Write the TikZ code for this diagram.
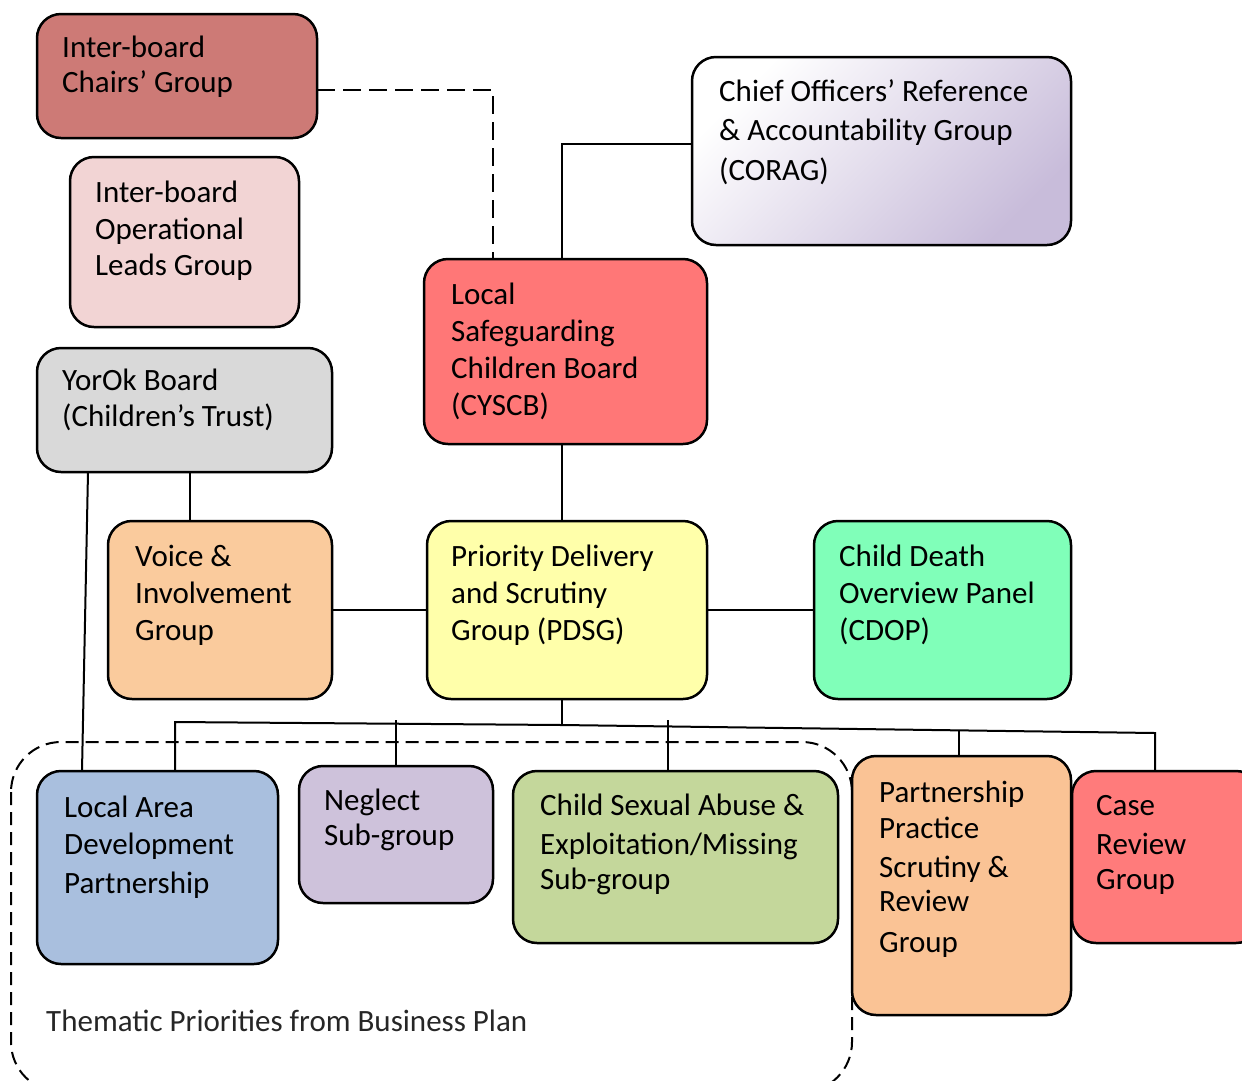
\documentclass[tikz,border=0pt]{standalone}
\usepackage{fontspec}
\setmainfont{Carlito}
\definecolor{cchairs}{RGB}{205,122,118}
\definecolor{coplead}{RGB}{242,212,212}
\definecolor{cyorok}{RGB}{217,217,217}
\definecolor{ccorag}{RGB}{200,188,218}
\definecolor{clscb}{RGB}{255,119,119}
\definecolor{cvoice}{RGB}{250,203,157}
\definecolor{cpdsg}{RGB}{255,255,170}
\definecolor{ccdop}{RGB}{128,255,185}
\definecolor{cladp}{RGB}{169,191,222}
\definecolor{cneglect}{RGB}{206,194,219}
\definecolor{ccse}{RGB}{196,215,155}
\definecolor{cppsrg}{RGB}{250,195,149}
\definecolor{ccase}{RGB}{255,123,123}
\definecolor{ctheme}{RGB}{38,38,38}
\tikzset{
  box/.style={draw, line width=2.5pt, rounded corners=24pt, inner sep=0pt, outer sep=0pt},
  txt/.style={anchor=base west, align=left, inner sep=0pt, font=\fontsize{31}{37}\selectfont},
  conn/.style={line width=2pt},
  dconn/.style={line width=2pt, dash pattern=on 18pt off 8pt},
  region/.style={line width=2pt, dash pattern=on 13pt off 7pt, rounded corners=50pt}
}
\begin{document}
\begin{tikzpicture}[x=1pt,y=-1pt]
\useasboundingbox (0,0) rectangle (1242,1080);
\clip (0,0) rectangle (1242,1080);
% thematic region
\draw[region] (11,742) rectangle (852,1092);
\node[anchor=base west, inner sep=0pt, text=ctheme, font=\fontsize{31}{37}\selectfont] (theme) at (46,1031) {Thematic Priorities from Business Plan};

% boxes
\node[box, fill=cchairs, minimum width=280pt, minimum height=124pt] (chairs) at (177,76) {};
\node[box, fill=coplead, minimum width=229pt, minimum height=170pt] (oplead) at (184.5,242) {};
\node[box, fill=cyorok, minimum width=295pt, minimum height=124pt] (yorok) at (184.5,410) {};
\node[box, top color=white, bottom color=ccorag, shading angle=45, minimum width=379pt, minimum height=188pt] (corag) at (881.5,151) {};
\node[box, fill=clscb, minimum width=283pt, minimum height=185pt] (lscb) at (565.5,351.5) {};
\node[box, fill=cvoice, minimum width=224pt, minimum height=178pt] (voice) at (220,610) {};
\node[box, fill=cpdsg, minimum width=280pt, minimum height=178pt] (pdsg) at (567,610) {};
\node[box, fill=ccdop, minimum width=257pt, minimum height=178pt] (cdop) at (942.5,610) {};
\node[box, fill=cladp, minimum width=241pt, minimum height=193pt] (ladp) at (157.5,867.5) {};
\node[box, fill=cneglect, minimum width=194pt, minimum height=137pt] (neglect) at (396,834.5) {};
\node[box, fill=ccse, minimum width=325pt, minimum height=172pt] (cse) at (675.5,857) {};
\node[box, fill=cppsrg, minimum width=219pt, minimum height=259pt] (ppsrg) at (961.5,885.5) {};
\node[box, fill=ccase, minimum width=188pt, minimum height=172pt] (case) at (1166,857) {};

% texts (anchored at the baseline of the last line)
\node[txt] (chairsT) at (62,92) {Inter-board\\[-2pt]Chairs’ Group};
\node[txt] (opleadT) at (95,275) {Inter-board\\Operational\\[-1pt]Leads Group};
\node[txt] (yorokT) at (62,426) {YorOk Board\\[-1pt](Children’s Trust)};
\node[txt] (coragT) at (719,180) {Chief Officers’ Reference\\[2.5pt]\& Accountability Group\\[2.5pt](CORAG)};
\node[txt] (lscbT) at (451,415) {Local\\Safeguarding\\Children Board\\(CYSCB)};
\node[txt] (voiceT) at (135,640) {Voice \&\\Involvement\\Group};
\node[txt] (pdsgT) at (451,640) {Priority Delivery\\and Scrutiny\\Group (PDSG)};
\node[txt] (cdopT) at (839,640) {Child Death\\Overview Panel\\(CDOP)};
\node[txt] (ladpT) at (64,893) {Local Area\\Development\\[2pt]Partnership};
\node[txt] (neglectT) at (324,845) {Neglect\\[-2pt]Sub-group};
\node[txt] (cseT) at (540,889) {Child Sexual Abuse \&\\[2pt]Exploitation/Missing\\[-2pt]Sub-group};
\node[txt] (ppsrgT) at (879,952) {Partnership\\[-1pt]Practice\\[2pt]Scrutiny \&\\[-3pt]Review\\[4pt]Group};
\node[txt] (caseT) at (1096,889) {Case\\[2pt]Review\\[-2pt]Group};

% connectors
\draw[dconn] ([yshift=-14pt]chairs.east) -| ([xshift=-72.5pt]lscb.north);
\draw[conn] ([yshift=7pt]corag.west) -| ([xshift=-3.5pt]lscb.north);
\draw[conn] ([xshift=-3.5pt]lscb.south) -- ([xshift=-3.5pt]lscb.south |- pdsg.north);
\draw[conn] (yorok.south -| 190,0) -- (voice.north -| 190,0);
\draw[conn] (voice.east) -- (pdsg.west);
\draw[conn] (pdsg.east) -- (cdop.west);
\draw[conn] (yorok.south -| 88,0) -- (ladp.north -| 82,0);
\coordinate (busL) at (175,722);
\coordinate (busM) at (562,725);
\coordinate (busR) at (1155,733);
\draw[conn] (pdsg.south -| busM) -- (busM);
\draw[conn] (ladp.north -| busL) -- (busL) -- (busM) -- (busR) -- (case.north -| busR);
\draw[conn] (396,720) -- (neglect.north -| 396,0);
\draw[conn] (668,720) -- (cse.north -| 668,0);
\draw[conn] (959,731) -- (ppsrg.north -| 959,0);
\end{tikzpicture}
\end{document}
